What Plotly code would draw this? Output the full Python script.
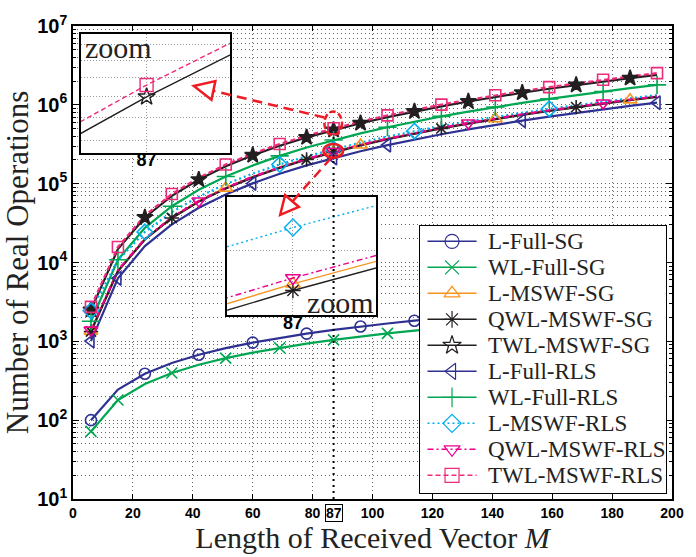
import plotly.graph_objects as go

# Length of the received vector
M = [6, 15, 24, 33, 42, 51, 60, 69, 78, 87, 96, 105, 114, 123, 132, 141, 150, 159, 168, 177, 186, 195]

# Number of real operations per algorithm
l_full_sg = [100, 244, 388, 532, 676, 820, 964, 1108, 1252, 1396, 1540, 1684, 1828, 1972,
             2116, 2260, 2404, 2548, 2692, 2836, 2980, 3124]
wl_full_sg = [72, 180, 288, 396, 504, 612, 720, 828, 936, 1044, 1152, 1260, 1368, 1476,
              1584, 1692, 1800, 1908, 2016, 2124, 2232, 2340]
l_mswf_sg = [1343, 7853, 19757, 37056, 59749, 87837, 121320, 160197, 204469, 254136, 309197,
             369653, 435503, 506748, 583387, 665421, 752850, 845673, 943891, 1047504, 1156511, 1270913]
qwl_mswf_sg = [1332, 7785, 19584, 36729, 59220, 87057, 120240, 158769, 202644, 251865, 306432,
               366345, 431604, 502209, 578160, 659457, 746100, 838089, 935424, 1038105, 1146132, 1259505]
twl_mswf_sg = [2508, 14775, 37248, 69927, 112812, 165903, 229200, 302703, 386412, 480327, 584448,
               698775, 823308, 958047, 1102992, 1258143, 1423500, 1599063, 1784832, 1980807, 2186988, 2403375]
l_full_rls = [1008, 6300, 16128, 30492, 49392, 72828, 100800, 133308, 170352, 211932, 258048,
              308700, 363888, 423612, 487872, 556668, 630000, 707868, 790272, 877212, 968688, 1064700]
wl_full_rls = [1800, 10845, 27504, 51777, 83664, 123165, 170280, 225009, 287352, 357309, 434880,
               520065, 612864, 713277, 821304, 936945, 1060200, 1191069, 1329552, 1475649, 1629360, 1790685]
l_mswf_rls = [2444, 10688, 24422, 43649, 68368, 98578, 134280, 175474, 222160, 274337, 332006,
              395168, 463820, 537965, 617602, 702730, 793350, 889462, 991066, 1098161, 1210748, 1328828]
qwl_mswf_rls = [1386, 7988, 20016, 37472, 60354, 88664, 122400, 161564, 206154, 256172, 311616,
                372488, 438786, 510512, 587664, 670244, 758250, 851684, 950544, 1054832, 1164546, 1279688]
twl_mswf_rls = [2736, 15750, 39456, 73854, 118944, 174726, 241200, 318366, 406224, 504774, 614016,
                733950, 864576, 1005894, 1157904, 1320606, 1494000, 1678086, 1872864, 2078334, 2294496, 2521350]

x_ticks = [0, 20, 40, 60, 80, 100, 120, 140, 160, 180, 200]
y_exps = [1, 2, 3, 4, 5, 6, 7]
M_MARK = 87

# ---- styling -------------------------------------------------------------
NAVY = "#2e3192"
GREEN = "#00a651"
ORANGE = "#f7941d"
BLACK = "#231f20"
CYAN = "#00aeef"
MAGENTA = "#ec008c"
PINK = "#ee2a7b"
RED = "#ed1c24"
SERIF = "Liberation Serif, Times New Roman, serif"
SANS = "Liberation Sans, Arial, sans-serif"

W, H = 696, 557
PL, PR, PT, PB = 73, 683, 18, 499   # plot area edges in pixels


def fx(px):
    return (px - PL) / (PR - PL)


def fy(py):
    return (PB - py) / (PB - PT)


k87 = M.index(M_MARK)
even = list(range(0, len(M), 2))
odd0 = [0] + list(range(1, len(M), 2))

# name, values, colour, dash, symbol, marker size, marker indices
series = [
    ("L-Full-SG", l_full_sg, NAVY, "solid", "circle-open", 11, even),
    ("WL-Full-SG", wl_full_sg, GREEN, "solid", "x-thin-open", 11, odd0),
    ("L-MSWF-SG", l_mswf_sg, ORANGE, "solid", "triangle-up-open", 12, [0, 5, k87, 10, 15, 20]),
    ("QWL-MSWF-SG", qwl_mswf_sg, BLACK, "solid", "asterisk-open", 12, [0, 3, 8, k87, 13, 18]),
    ("TWL-MSWF-SG", twl_mswf_sg, BLACK, "solid", "star-open", 12, sorted(set(even + [k87]))),
    ("L-Full-RLS", l_full_rls, NAVY, "solid", "triangle-left-open", 12, [0, 1, 6, k87, 11, 16, 21]),
    ("WL-Full-RLS", wl_full_rls, GREEN, "solid", "cross-thin-open", 13, odd0),
    ("L-MSWF-RLS", l_mswf_rls, CYAN, "2px,3px", "diamond-open", 12, [0, 2, 7, k87, 12, 17]),
    ("QWL-MSWF-RLS", qwl_mswf_rls, MAGENTA, "6px,3px,2px,3px", "triangle-down-open", 12, [0, 4, k87, 14, 19]),
    ("TWL-MSWF-RLS", twl_mswf_rls, PINK, "5px,3px", "square-open", 11, odd0),
]

fig = go.Figure()

# curves and markers on the main axes
for name, vals, col, dash, sym, size, idx in series:
    fig.add_trace(go.Scatter(
        x=M, y=vals, mode="lines", showlegend=False, hoverinfo="skip",
        line=dict(color=col, width=2.2, dash=dash),
    ))
for name, vals, col, dash, sym, size, idx in series:
    msym = "star" if name == "TWL-MSWF-SG" else sym
    fig.add_trace(go.Scatter(
        x=[M[i] for i in idx], y=[vals[i] for i in idx], mode="markers",
        showlegend=False, hoverinfo="skip",
        marker=dict(symbol=msym, size=size, color=col, line=dict(color=col, width=1.6)),
    ))

# magnified views around M = 87
inset1 = ["TWL-MSWF-SG", "TWL-MSWF-RLS"]
inset2 = ["L-MSWF-RLS", "QWL-MSWF-RLS", "L-MSWF-SG", "QWL-MSWF-SG"]
for names, xa, ya in [(inset1, "x2", "y2"), (inset2, "x3", "y3")]:
    for name, vals, col, dash, sym, size, idx in series:
        if name not in names:
            continue
        fig.add_trace(go.Scatter(
            x=M, y=vals, mode="lines", xaxis=xa, yaxis=ya, showlegend=False,
            hoverinfo="skip", line=dict(color=col, width=1.4, dash=dash),
        ))
        fig.add_trace(go.Scatter(
            x=[M[k87]], y=[vals[k87]], mode="markers", xaxis=xa, yaxis=ya,
            showlegend=False, hoverinfo="skip",
            marker=dict(symbol=sym, size=13, color=col, line=dict(color=col, width=1.4)),
        ))

# legend box drawn on its own pixel-scaled axes
LEG_L, LEG_R, LEG_T, LEG_B = 426, 677, 221, 493
ROW0, ROW_STEP = 237, 26.44
SW_X0, SW_X1, TXT_X = 434, 484, 494
for i, (name, vals, col, dash, sym, size, idx) in enumerate(series):
    ry = ROW0 + i * ROW_STEP
    fig.add_trace(go.Scatter(
        x=[SW_X0, SW_X1], y=[ry, ry], mode="lines", xaxis="x4", yaxis="y4",
        showlegend=False, hoverinfo="skip", line=dict(color=col, width=1.5, dash=dash),
    ))
    fig.add_trace(go.Scatter(
        x=[(SW_X0 + SW_X1) / 2], y=[ry], mode="markers", xaxis="x4", yaxis="y4",
        showlegend=False, hoverinfo="skip",
        marker=dict(symbol=sym, size=14, color=col, line=dict(color=col, width=1.2)),
    ))
    fig.add_annotation(
        x=TXT_X, y=ry, xref="x4", yref="y4", text=name, showarrow=False,
        xanchor="left", yanchor="middle", font=dict(family=SERIF, size=23, color="#222"),
    )

grid = "rgba(0,0,0,0.6)"
minor_vals = [m * 10 ** k for k in range(1, 7) for m in range(2, 10)]
frame = dict(showline=True, mirror=True, linecolor="black", linewidth=1.5, zeroline=False)

fig.update_layout(
    width=W, height=H,
    margin=dict(l=PL, r=W - PR, t=PT, b=H - PB),
    paper_bgcolor="white", plot_bgcolor="white",
    showlegend=False,
    xaxis=dict(
        range=[0, 200], tickvals=x_ticks, ticktext=[f"<b>{v}</b>" for v in x_ticks],
        ticks="inside", ticklen=5, tickcolor="black", mirror="allticks",
        showline=True, linecolor="black", linewidth=1.5,
        showgrid=True, gridcolor=grid, griddash="1px,3px", gridwidth=1, zeroline=False,
        tickfont=dict(family=SANS, size=14, color="black"),
        title=dict(text="Length of Received Vector <i>M</i>",
                   font=dict(family=SERIF, size=30, color="#222"), standoff=3),
    ),
    yaxis=dict(
        type="log", range=[1, 7],
        tickvals=[10 ** k for k in y_exps],
        ticktext=[f"<b>10<sup>{k}</sup></b>" for k in y_exps],
        ticks="inside", ticklen=6, tickcolor="black", mirror="allticks",
        showline=True, linecolor="black", linewidth=1.5,
        showgrid=True, gridcolor=grid, griddash="1px,3px", gridwidth=1, zeroline=False,
        minor=dict(tickvals=minor_vals, ticks="inside", ticklen=3, tickcolor="black",
                   showgrid=True, gridcolor=grid, griddash="1px,3px", gridwidth=1),
        tickfont=dict(family=SANS, size=20, color="black"),
        title=dict(text="Number of Real Operations",
                   font=dict(family=SERIF, size=31, color="#222"), standoff=3),
    ),
    xaxis2=dict(
        domain=[fx(81), fx(233)], anchor="y2", range=[80.63, 95.09],
        tickvals=[M_MARK], ticktext=[f"<b>{M_MARK}</b>"], ticks="", ticklabelstandoff=-10,
        showgrid=True, gridcolor="#999", griddash="1px,2px",
        tickfont=dict(family=SANS, size=18, color="black"), **frame,
    ),
    yaxis2=dict(
        domain=[fy(147), fy(26)], anchor="x2", type="log", range=[5.5790, 5.7967],
        tickvals=[400000, 440000, 480000, 520000, 560000, 600000], showticklabels=False,
        ticks="", showgrid=True, gridcolor="#999", griddash="1px,2px", **frame,
    ),
    xaxis3=dict(
        domain=[fx(230), fx(382)], anchor="y3", range=[85.89, 88.41],
        tickvals=[M_MARK], ticktext=[f"<b>{M_MARK}</b>"], ticks="", ticklabelstandoff=-9,
        showgrid=True, gridcolor="#999", griddash="1px,2px",
        tickfont=dict(family=SANS, size=18, color="black"), **frame,
    ),
    yaxis3=dict(
        domain=[fy(312), fy(192)], anchor="x3", type="log", range=[5.38667, 5.45623],
        tickvals=[266000], showticklabels=False,
        ticks="", showgrid=True, gridcolor="#999", griddash="1px,2px", **frame,
    ),
    xaxis4=dict(
        domain=[fx(LEG_L), fx(LEG_R)], anchor="y4", range=[LEG_L, LEG_R],
        showticklabels=False, ticks="", showgrid=False,
        showline=True, mirror=True, linecolor="black", linewidth=1.2, zeroline=False,
    ),
    yaxis4=dict(
        domain=[fy(LEG_B), fy(LEG_T)], anchor="x4", range=[LEG_B, LEG_T],
        showticklabels=False, ticks="", showgrid=False,
        showline=True, mirror=True, linecolor="black", linewidth=1.2, zeroline=False,
    ),
)

# boxed tick label for M = 87
fig.add_annotation(
    x=M_MARK, xref="x", y=-0.01, yref="paper", yanchor="top",
    text=f"<b>{M_MARK}</b>", showarrow=False,
    font=dict(family=SANS, size=14, color="black"),
    bordercolor="black", borderwidth=1, borderpad=0,
)

# "zoom" captions
for cx, cy in [(119, 40), (345, 299)]:
    fig.add_annotation(
        x=fx(cx), y=fy(cy), xref="paper", yref="paper", text="zoom", showarrow=False,
        xanchor="center", yanchor="middle", font=dict(family=SERIF, size=30, color="#222"),
    )

# vertical marker line at M = 87
fig.add_shape(type="line", xref="x", yref="paper", x0=M_MARK, x1=M_MARK, y0=0, y1=fy(130),
              line=dict(color="black", width=2, dash="2px,4px"), layer="above")

# red highlight ellipses and arrows
fig.add_shape(type="circle", xref="paper", yref="paper",
              x0=fx(329), x1=fx(347), y0=fy(129), y1=fy(105),
              line=dict(color=RED, width=2.5, dash="6px,3px"), layer="above")
fig.add_shape(type="circle", xref="paper", yref="paper",
              x0=fx(328), x1=fx(348), y0=fy(152), y1=fy(138),
              line=dict(color=RED, width=2.5), layer="above")

arrows = [
    ((329, 111), (216, 84), [(196, 79), (218, 74), (214, 93)]),
    ((336, 152), (296, 197), [(284, 210), (303, 202), (289, 190)]),
]
for (sx, sy), (ex, ey), head in arrows:
    fig.add_shape(type="line", xref="paper", yref="paper",
                  x0=fx(sx), y0=fy(sy), x1=fx(ex), y1=fy(ey),
                  line=dict(color=RED, width=2.5, dash="10px,6px"), layer="above")
    path = "M " + " L ".join(f"{fx(px):.5f},{fy(py):.5f}" for px, py in head) + " Z"
    fig.add_shape(type="path", xref="paper", yref="paper", path=path,
                  fillcolor="white", line=dict(color=RED, width=2.5), layer="above")

fig.write_html("out.html")
